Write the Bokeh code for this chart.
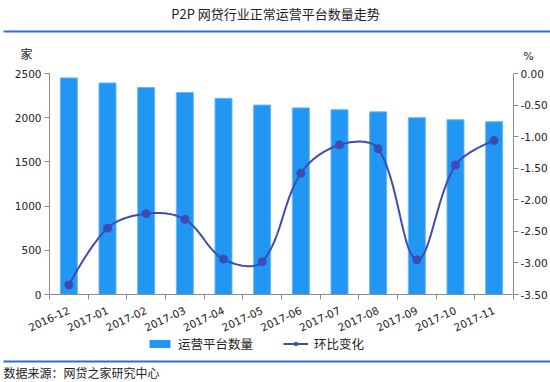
import math
from bokeh.plotting import figure
from bokeh.layouts import column
from bokeh.models import (Range1d, LinearAxis, FixedTicker, Legend, LegendItem,
                          NumeralTickFormatter)
from bokeh.core.properties import value
from bokeh.embed import file_html
from bokeh.resources import INLINE

# ---- data ----
months = ["2016-12", "2017-01", "2017-02", "2017-03", "2017-04", "2017-05",
          "2017-06", "2017-07", "2017-08", "2017-09", "2017-10", "2017-11"]
platforms = [2450, 2393, 2341, 2285, 2219, 2143, 2111, 2090, 2066, 2000, 1977, 1955]
mom_change = [-3.35, -2.45, -2.22, -2.31, -2.94, -2.98, -1.58, -1.13, -1.19, -2.95, -1.45, -1.06]
left_ticks = [0, 500, 1000, 1500, 2000, 2500]
right_ticks = [0.0, -0.5, -1.0, -1.5, -2.0, -2.5, -3.0, -3.5]
title_text = "P2P 网贷行业正常运营平台数量走势"
source_text = "数据来源：网贷之家研究中心"
series_names = ["运营平台数量", "环比变化"]

W = 550
TOP_H = 66
BL, BR, BT, FH, BB = 49, 37, 7, 225, 40
MAIN_H = BT + FH + BB
BOT_H = 382 - TOP_H - MAIN_H
FW = W - BL - BR

FONT = "DejaVu Sans"
CJK = "Noto Sans CJK SC"
BAR = "#2196F3"
BAR_EDGE = "#6DB8F6"
LINE = "#3F4BB5"
AX = "#8c8c8c"
RULE = "#2B6FD6"
TXT = "#222222"


def no_align(f):
    try:
        f.frame_align = False
    except Exception:
        pass


def deco(h):
    f = figure(width=W, height=h, output_backend="svg", toolbar_location=None,
               title=None, x_range=Range1d(0, W), y_range=Range1d(h, 0),
               min_border=0, x_axis_location=None, y_axis_location=None,
               outline_line_color=None)
    f.xgrid.visible = False
    f.ygrid.visible = False
    no_align(f)
    return f


# ---- header ----
top = deco(TOP_H)
top.text(x=[W / 2], y=[13], text=[title_text], text_font=value(CJK),
         text_font_size="13px", text_align="center", text_baseline="middle",
         text_color=TXT)
top.segment(x0=[3], y0=[31], x1=[W], y1=[31], line_color=RULE, line_width=2)
top.text(x=[26], y=[53], text=["家"], text_font=value(CJK), text_font_size="12px",
         text_align="center", text_baseline="middle", text_color=TXT)
top.text(x=[528], y=[56], text=["%"], text_font=value(FONT), text_font_size="11px",
         text_align="center", text_baseline="middle", text_color=TXT)

# ---- main chart ----
p = figure(width=W, height=MAIN_H, output_backend="svg", toolbar_location=None,
           title=None, x_range=Range1d(-0.5, len(months) - 0.5),
           y_range=Range1d(0, 2500), min_border_left=BL, min_border_right=BR,
           min_border_top=BT, min_border_bottom=BB, outline_line_color=None)
no_align(p)
p.xgrid.visible = False
p.ygrid.visible = False
p.extra_y_ranges = {"pct": Range1d(-3.5, 0)}

xs = list(range(len(months)))
p.vbar(x=xs, top=platforms, width=0.44, fill_color=BAR,
       line_color=BAR_EDGE, line_width=1)

# smooth line (bezier through the points)
SMOOTH = 0.35
sx, sy = FW / len(months), FH / 3.5
pts = list(zip(xs, mom_change))
n = len(pts)
cps = []
for i, (px, py) in enumerate(pts):
    if i == 0 or i == n - 1:
        cps.append((px, py))
        continue
    (ax_, ay_), (bx_, by_) = pts[i - 1], pts[i + 1]
    vx, vy = (bx_ - ax_) * SMOOTH, (by_ - ay_) * SMOOTH
    d0 = math.hypot((px - ax_) * sx, (py - ay_) * sy)
    d1 = math.hypot((bx_ - px) * sx, (by_ - py) * sy)
    s = d0 + d1
    d0, d1 = d0 / s, d1 / s
    cps.append((px - vx * d0, py - vy * d0))
    cps.append((px + vx * d1, py + vy * d1))
cx, cy = [], []
for i in range(n - 1):
    p0, p3 = pts[i], pts[i + 1]
    c1 = cps[0] if i == 0 else cps[2 * i]
    c2 = cps[-1] if i + 1 == n - 1 else cps[2 * i + 1]
    for k in range(31):
        t = k / 30
        a, b, c, d = (1 - t) ** 3, 3 * (1 - t) ** 2 * t, 3 * (1 - t) * t ** 2, t ** 3
        cx.append(a * p0[0] + b * c1[0] + c * c2[0] + d * p3[0])
        cy.append(a * p0[1] + b * c1[1] + c * c2[1] + d * p3[1])

p.line(cx, cy, y_range_name="pct", line_color=LINE, line_width=2)
p.scatter(xs, mom_change, y_range_name="pct", size=8, fill_color=LINE,
          line_color=LINE)


def style(ax):
    ax.axis_line_color = AX
    ax.major_tick_line_color = AX
    ax.minor_tick_line_color = AX
    ax.major_label_text_font = FONT
    ax.major_label_text_font_size = "10.5px"
    ax.major_label_text_color = TXT
    ax.major_tick_in = 0
    ax.minor_tick_in = 0


yl = p.yaxis[0]
yl.ticker = FixedTicker(ticks=left_ticks)
yl.major_tick_out = 5
yl.major_label_standoff = 3
style(yl)

yr = LinearAxis(y_range_name="pct", ticker=FixedTicker(ticks=right_ticks),
                formatter=NumeralTickFormatter(format="0.00"))
style(yr)
yr.major_tick_out = 5
yr.major_label_standoff = 2
p.add_layout(yr, "right")

xa = p.xaxis[0]
xa.ticker = FixedTicker(ticks=xs,
                        minor_ticks=[i - 0.5 for i in range(len(months) + 1)])
xa.major_label_overrides = {i: m for i, m in enumerate(months)}
style(xa)
xa.major_tick_out = 0
xa.minor_tick_out = 5
xa.major_label_orientation = math.radians(25)
xa.major_label_standoff = 10

# ---- footer: legend, rule, source ----
bot = deco(BOT_H)
# hidden proxy renderers that only give the legend its glyphs
lg_bar = bot.vbar(x=[xs[0]], top=[platforms[0]], width=0.44, fill_color=BAR,
                  line_color=BAR, visible=False)
lg_line = bot.line(x=xs[:2], y=mom_change[:2], line_color=LINE, line_width=2,
                   visible=False)
lg_dot = bot.scatter(x=[xs[0]], y=[mom_change[0]], size=8, fill_color=LINE,
                     line_color=LINE, visible=False)
legend = Legend(items=[LegendItem(label=series_names[0], renderers=[lg_bar]),
                       LegendItem(label=series_names[1], renderers=[lg_line, lg_dot])],
                orientation="horizontal", location=(147, BOT_H - 15),
                glyph_width=25, glyph_height=9, label_standoff=6, spacing=30,
                padding=0, margin=0, border_line_alpha=0, background_fill_alpha=0,
                inactive_fill_alpha=0,
                label_text_font=CJK, label_text_font_size="12.5px",
                label_text_color=TXT, label_height=12)
bot.add_layout(legend, "center")
bot.segment(x0=[3], y0=[361 - TOP_H - MAIN_H], x1=[W], y1=[361 - TOP_H - MAIN_H],
            line_color=RULE, line_width=2)
bot.text(x=[3], y=[372 - TOP_H - MAIN_H], text=[source_text], text_font=value(CJK),
         text_font_size="12px", text_align="left", text_baseline="middle",
         text_color=TXT)

layout = column(top, p, bot, spacing=0)
open("out.html", "w").write(file_html(layout, INLINE))
